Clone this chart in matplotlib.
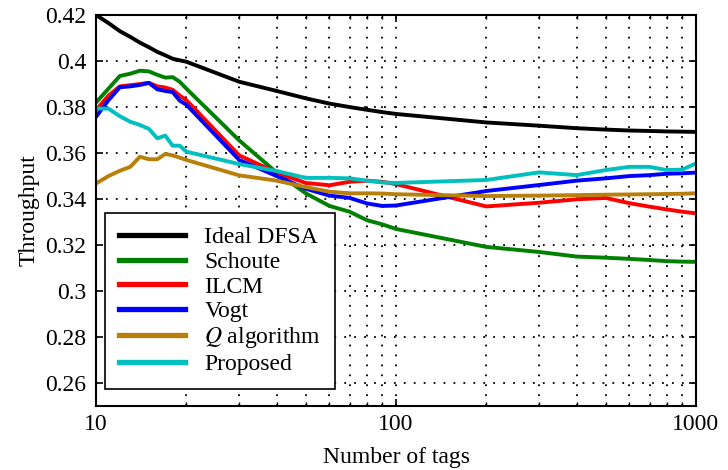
import numpy as np
import matplotlib
matplotlib.use("Agg")
import matplotlib.pyplot as plt
from matplotlib.ticker import LogLocator, FixedLocator, NullFormatter

plt.rcParams['font.family'] = ['Liberation Serif', 'DejaVu Serif']
plt.rcParams['mathtext.fontset'] = 'stix'

# number of tags
tags = [10, 11, 12, 13, 14, 15, 16, 17, 18, 19, 20,
        30, 40, 50, 60, 70, 80, 90, 100,
        200, 300, 400, 500, 600, 700, 800, 900, 1000]

ideal = [0.4200, 0.4165, 0.4130, 0.4105, 0.4080, 0.4060, 0.4040, 0.4025, 0.4010, 0.4003, 0.3997,
         0.3910, 0.3870, 0.3838, 0.3815, 0.3800, 0.3788, 0.3778, 0.3770,
         0.3733, 0.3719, 0.3708, 0.3702, 0.3698, 0.3696, 0.3694, 0.3693, 0.3692]

schoute = [0.3820, 0.3880, 0.3935, 0.3945, 0.3958, 0.3955, 0.3940, 0.3928, 0.3930, 0.3910, 0.3880,
           0.3655, 0.3515, 0.3425, 0.3370, 0.3345, 0.3308, 0.3290, 0.3270,
           0.3192, 0.3170, 0.3150, 0.3145, 0.3140, 0.3135, 0.3130, 0.3128, 0.3127]

ilcm = [0.3787, 0.3850, 0.3890, 0.3895, 0.3900, 0.3905, 0.3890, 0.3885, 0.3875, 0.3850, 0.3830,
        0.3590, 0.3515, 0.3470, 0.3460, 0.3475, 0.3480, 0.3475, 0.3465,
        0.3368, 0.3384, 0.3399, 0.3405, 0.3382, 0.3367, 0.3355, 0.3345, 0.3338]

vogt = [0.3758, 0.3830, 0.3886, 0.3890, 0.3896, 0.3905, 0.3877, 0.3870, 0.3865, 0.3828, 0.3810,
        0.3570, 0.3500, 0.3445, 0.3415, 0.3405, 0.3381, 0.3370, 0.3372,
        0.3435, 0.3461, 0.3480, 0.3490, 0.3500, 0.3504, 0.3510, 0.3512, 0.3515]

q_alg = [0.3468, 0.3500, 0.3523, 0.3540, 0.3584, 0.3573, 0.3573, 0.3596, 0.3590, 0.3580, 0.3570,
         0.3503, 0.3480, 0.3452, 0.3432, 0.3425, 0.3425, 0.3424, 0.3421,
         0.3413, 0.3415, 0.3417, 0.3419, 0.3420, 0.3421, 0.3422, 0.3423, 0.3425]

proposed = [0.3794, 0.3793, 0.3760, 0.3736, 0.3722, 0.3705, 0.3664, 0.3676, 0.3632, 0.3632, 0.3606,
            0.3552, 0.3522, 0.3492, 0.3492, 0.3490, 0.3480, 0.3472, 0.3470,
            0.3483, 0.3516, 0.3504, 0.3526, 0.3540, 0.3540, 0.3526, 0.3528, 0.3555]

fig = plt.figure(figsize=(7.28, 4.70), dpi=100)
ax = fig.add_axes([0.132, 0.136, 0.824, 0.832])

lw = 2.8
ax.plot(tags, ideal, color='black', lw=lw, label='Ideal DFSA')
ax.plot(tags, schoute, color='#008000', lw=lw, label='Schoute')
ax.plot(tags, ilcm, color='#ff0000', lw=lw, label='ILCM')
ax.plot(tags, vogt, color='#0000ff', lw=lw, label='Vogt')
ax.plot(tags, q_alg, color='#b8800a', lw=lw, label='$Q$ algorithm')
ax.plot(tags, proposed, color='#00bfbf', lw=lw, label='Proposed')

ax.set_xscale('log')
ax.set_xlim(10, 1000)
ax.set_ylim(0.25, 0.42)
ax.yaxis.set_major_locator(FixedLocator(np.arange(0.26, 0.4201, 0.02)))
ax.set_yticklabels(['0.26', '0.28', '0.3', '0.32', '0.34', '0.36', '0.38', '0.4', '0.42'])
ax.xaxis.set_major_locator(FixedLocator([10, 100, 1000]))
ax.set_xticklabels(['10', '100', '1000'])
ax.xaxis.set_minor_locator(LogLocator(base=10, subs=np.arange(2, 10)))
ax.xaxis.set_minor_formatter(NullFormatter())

ax.grid(True, which='major', color='black', linestyle=(0, (1, 4.5)), linewidth=1.3)
ax.grid(True, which='minor', axis='x', color='black', linestyle=(0, (1, 4.5)), linewidth=1.3)

ax.tick_params(which='both', direction='in', top=True, right=True, labelsize=17)
ax.tick_params(axis='x', pad=6)
ax.tick_params(axis='y', pad=7)
ax.tick_params(which='major', length=5, width=1.2)
ax.tick_params(which='minor', length=3, width=1)
for s in ax.spines.values():
    s.set_linewidth(1.5)

ax.set_xlabel('Number of tags', fontsize=17, labelpad=8)
ax.set_ylabel('Throughput', fontsize=17, labelpad=4)

leg = ax.legend(loc='lower left', bbox_to_anchor=(0.015, 0.0435), borderaxespad=0,
                fontsize=17, handlelength=2.8, handletextpad=0.8, borderpad=0.6,
                labelspacing=0.13, fancybox=False, framealpha=1, edgecolor='black')
leg.get_frame().set_linewidth(1.2)
for line in leg.get_lines():
    line.set_linewidth(3.8)

fig.savefig('out.png', dpi=100)
